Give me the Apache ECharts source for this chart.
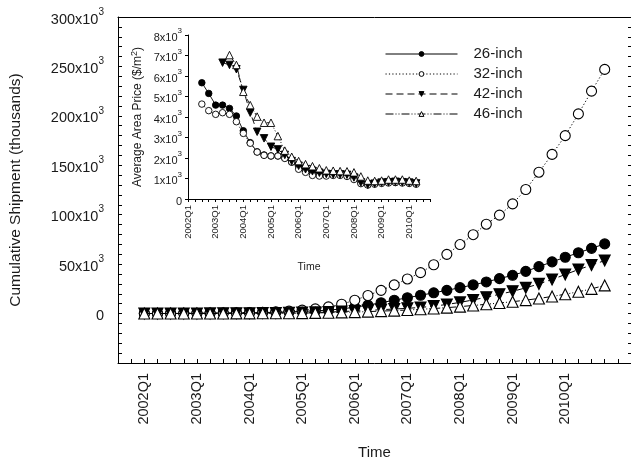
<!DOCTYPE html>
<html><head><meta charset="utf-8">
<script src="https://cdn.jsdelivr.net/npm/echarts@6/dist/echarts.min.js"></script>
<style>html,body{margin:0;padding:0;background:#fff}#c{width:631px;height:465px}</style>
</head><body><div id="c"></div>
<script>
// ---- data ----
const quarters = [];
for (let y = 2002; y <= 2010; y++) for (let q = 1; q <= 4; q++) quarters.push(y + 'Q' + q);

const seriesNames = ['26-inch', '32-inch', '42-inch', '46-inch'];

// cumulative shipment (thousands), 2002Q1..2010Q4
const ship26 = [50,100,150,200,300,400,500,650,800,1000,1300,1700,2200,2800,3500,4700,6500,8500,11000,13500,16000,18500,21000,23500,26200,29000,32000,35400,38700,42700,47500,52300,57000,61500,66000,70500];
const ship32 = [100,150,200,300,400,500,600,800,1000,1300,1800,2500,3500,4800,6800,9500,13500,18300,23500,29000,35000,41400,49400,59900,69800,79800,90400,99600,111000,125500,143000,161000,180000,202000,225000,247000];
const ship42 = [20,40,60,80,100,150,200,300,400,500,650,800,1000,1200,1500,2000,2600,3200,3900,4600,5300,6200,7500,9200,11300,13800,16500,19500,22500,26000,30000,34500,39500,44500,49000,53600];
const ship46 = [10,20,30,40,60,80,100,150,200,250,300,400,500,700,900,1200,1500,2000,2500,3000,3600,4300,5100,6000,7000,8200,9400,10700,12000,13600,15300,17300,19600,22000,25000,28500];

// average area price ($/m^2), 2002Q1..2010Q2
const price26 = [null,null,5670,5150,4580,4580,4420,4050,3330,2750,2300,2150,2100,2100,2000,1800,1580,1420,1330,1250,1200,1200,1200,1150,1050,800,700,780,800,820,820,800,780,750];
const price32 = [null,null,4630,4310,4130,4210,4130,3770,3200,2720,2290,2130,2100,2100,1980,1800,1450,1300,1150,1120,1120,1150,1150,1100,950,750,680,720,760,780,800,780,760,720];
const price42 = [null,null,null,null,null,6650,6540,6330,5320,4210,3280,2960,2550,2420,2150,1850,1620,1450,1350,1280,1220,1200,1200,1180,1050,800,700,750,800,820,840,820,800,760];
const price46 = [null,null,null,null,null,null,7020,6540,5230,4580,4020,3720,3720,3070,2360,2060,1850,1700,1600,1500,1400,1380,1360,1350,1300,1100,900,880,900,950,950,950,900,880];

// tick settings
const mainYTicks = [0, 50000, 100000, 150000, 200000, 250000, 300000];
const insetYTicks = [0, 1000, 2000, 3000, 4000, 5000, 6000, 7000, 8000];

// ---- styles ----
const FONT = 'Liberation Sans, Arial, sans-serif';
const TXT = '#1a1a1a';
const styles = [
  { symbol: 'circle', fill: '#000', line: 'solid', rot: 0 },
  { symbol: 'circle', fill: '#fff', line: [1.2, 2.2], rot: 0 },
  { symbol: 'triangle', fill: '#000', line: [7, 4], rot: 180 },
  { symbol: 'triangle', fill: '#fff', line: [8, 2, 1, 2, 1, 2], rot: 0 }
];
const shipData = [ship26, ship32, ship42, ship46];
const priceData = [price26, price32, price42, price46];

function toXY(arr) {
  const out = [];
  arr.forEach((v, i) => { if (v != null) out.push([i, v]); });
  return out;
}
function supLabel(v) {
  if (v < 0) return '';
  if (v === 0) return '{b|0}';
  return '{b|' + (v / 1000) + 'x10}{s|3}';
}

const series = [];
styles.forEach((st, k) => {
  series.push({
    name: seriesNames[k], type: 'line', xAxisIndex: 0, yAxisIndex: 0,
    data: toXY(shipData[k]),
    symbol: st.symbol, symbolRotate: st.rot,
    symbolSize: st.symbol === 'circle' ? 10 : 11,
    itemStyle: { color: st.fill, borderColor: '#000', borderWidth: 1.1 },
    lineStyle: { color: '#000', width: 1, type: st.line },
    animation: false, z: 3 + k
  });
});
styles.forEach((st, k) => {
  series.push({
    name: seriesNames[k], type: 'line', xAxisIndex: 2, yAxisIndex: 2,
    data: toXY(priceData[k]),
    symbol: st.symbol, symbolRotate: st.rot,
    symbolSize: st.symbol === 'circle' ? 6.5 : 7.5,
    itemStyle: { color: st.fill, borderColor: '#000', borderWidth: 0.9 },
    lineStyle: { color: '#000', width: 0.9, type: st.line },
    animation: false, z: 3 + k
  });
});

const chart = echarts.init(document.getElementById('c'), null, { renderer: 'canvas' });
chart.setOption({
  backgroundColor: '#fff',
  animation: false,
  textStyle: { fontFamily: FONT, color: TXT },
  legend: {
    data: seriesNames, orient: 'vertical', left: 380, top: 41,
    itemWidth: 72, itemHeight: 6, itemGap: 4,
    lineStyle: { width: 1 },
    itemStyle: { borderWidth: 1 },
    textStyle: { fontSize: 15, color: TXT, fontFamily: FONT, padding: [0, 0, 0, 11], lineHeight: 16 },
    selectedMode: false
  },
  grid: [
    { left: 118, top: 17, right: 0, bottom: 95 },
    { left: 188, top: 35, width: 242, height: 164 }
  ],
  xAxis: [
    {
      gridIndex: 0, type: 'value', min: -2, max: 37, interval: 1,
      axisLine: { show: true, onZero: false, lineStyle: { color: '#000', width: 1 } },
      axisTick: { show: true, inside: true, length: 4, lineStyle: { color: '#000' } },
      splitLine: { show: false },
      axisLabel: {
        rotate: 90, margin: 10, fontSize: 14.5, color: TXT, fontFamily: FONT,
        formatter: v => (v >= 0 && v < quarters.length && v % 4 === 0 && v <= 32) ? quarters[v] : ''
      },
      name: 'Time', nameLocation: 'middle', nameGap: 82,
      nameTextStyle: { fontSize: 15, color: TXT, fontFamily: FONT }
    },
    {
      gridIndex: 0, type: 'value', min: -2, max: 37, position: 'top',
      axisLine: { show: true, onZero: false, lineStyle: { color: '#000', width: 1 } },
      axisTick: { show: false }, axisLabel: { show: false }, splitLine: { show: false }
    },
    {
      gridIndex: 1, type: 'value', min: 0, max: 35, interval: 1,
      axisLine: { show: true, onZero: false, lineStyle: { color: '#000', width: 1 } },
      axisTick: { show: true, inside: false, length: 3, lineStyle: { color: '#000' } },
      splitLine: { show: false },
      axisLabel: {
        rotate: 90, margin: 6, fontSize: 9.5, color: TXT, fontFamily: FONT,
        formatter: v => (v >= 0 && v <= 32 && v % 4 === 0) ? quarters[v] : ''
      },
      name: 'Time', nameLocation: 'middle', nameGap: 63,
      nameTextStyle: { fontSize: 10.5, color: TXT, fontFamily: FONT }
    }
  ],
  yAxis: [
    {
      gridIndex: 0, type: 'value', min: -50000, max: 300000, interval: 50000,
      axisLine: { show: true, onZero: false, lineStyle: { color: '#000', width: 1 } },
      axisTick: { show: true, inside: true, length: 4, lineStyle: { color: '#000' } },
      minorTick: { show: true, splitNumber: 5, length: 4, lineStyle: { color: '#000' } },
      splitLine: { show: false },
      axisLabel: {
        margin: 14, color: TXT, fontFamily: FONT, formatter: supLabel,
        rich: {
          b: { fontSize: 14.5, fontFamily: FONT, color: TXT, lineHeight: 20, verticalAlign: 'bottom' },
          s: { fontSize: 10, fontFamily: FONT, color: TXT, lineHeight: 20, verticalAlign: 'top', padding: [0, 0, 0, 0] }
        }
      },
      name: 'Cumulative Shipment (thousands)', nameLocation: 'middle', nameGap: 94, nameRotate: 90,
      nameTextStyle: { fontSize: 15.5, color: TXT, fontFamily: FONT }
    },
    {
      gridIndex: 0, type: 'value', min: -50000, max: 300000, interval: 50000, position: 'right',
      axisLine: { show: false, onZero: false },
      axisTick: { show: true, inside: true, length: 3, lineStyle: { color: '#000' } },
      minorTick: { show: true, splitNumber: 5, length: 3, lineStyle: { color: '#000' } },
      axisLabel: { show: false }, splitLine: { show: false }
    },
    {
      gridIndex: 1, type: 'value', min: 0, max: 8000, interval: 1000,
      axisLine: { show: true, onZero: false, lineStyle: { color: '#000', width: 1 } },
      axisTick: { show: true, inside: false, length: 3, lineStyle: { color: '#000' } },
      splitLine: { show: false },
      axisLabel: {
        margin: 6, color: TXT, fontFamily: FONT,
        formatter: v => v === 0 ? '{b|0}' : '{b|' + (v / 1000) + 'x10}{s|3}',
        rich: {
          b: { fontSize: 11, fontFamily: FONT, color: TXT, lineHeight: 16, verticalAlign: 'bottom' },
          s: { fontSize: 8, fontFamily: FONT, color: TXT, lineHeight: 16, verticalAlign: 'top' }
        }
      },
      name: 'Average Area Price ($/m{s|2})', nameLocation: 'middle', nameGap: 43, nameRotate: 90,
      nameTextStyle: {
        fontSize: 12, color: TXT, fontFamily: FONT,
        rich: { s: { fontSize: 9, fontFamily: FONT, color: TXT, verticalAlign: 'top', lineHeight: 15 } }
      }
    }
  ],
  series: series
});
</script>
</body></html>
